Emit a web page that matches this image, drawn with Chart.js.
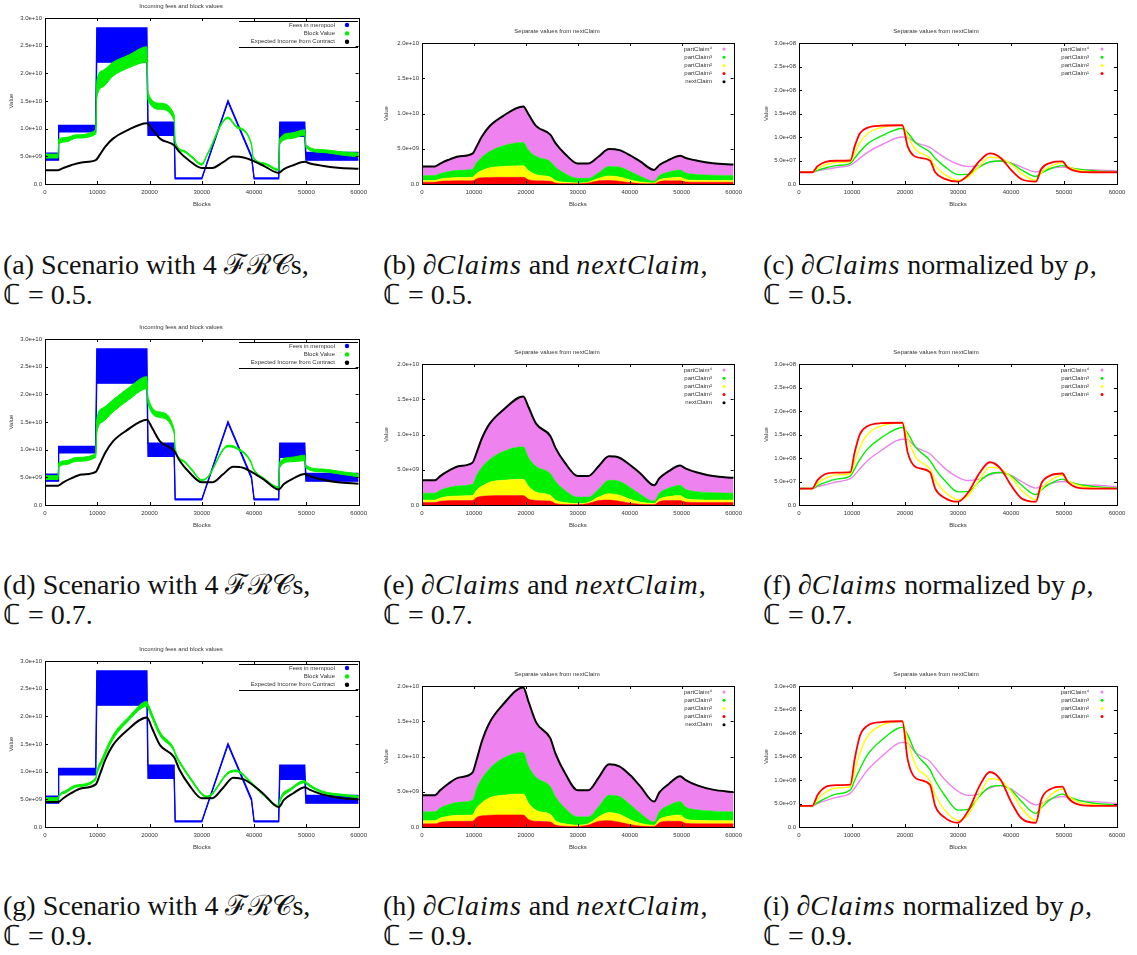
<!DOCTYPE html>
<html>
<head>
<meta charset="utf-8">
<script src="https://cdn.jsdelivr.net/npm/chart.js@4.4.1/dist/chart.umd.min.js"></script>
<style>
  body { margin: 0; background: #fff; width: 1137px; height: 955px; position: relative; overflow: hidden; }
  canvas { position: absolute; }
  .cap { position: absolute; font-family: "Liberation Serif", serif; font-size: 28px; line-height: 30px; color: #111; white-space: nowrap; }
  .cap i { font-style: italic; letter-spacing: 1px; }
</style>
</head>
<body>
<div id="panels"></div>

<div class="cap" style="left:3px;top:250px">(a) Scenario with 4 ℱℛ𝒞s,<br>ℂ = 0.5.</div>
<div class="cap" style="left:383px;top:250px">(b) ∂<i>Claims</i> and <i>nextClaim</i>,<br>ℂ = 0.5.</div>
<div class="cap" style="left:763px;top:250px">(c) ∂<i>Claims</i> normalized by <i>ρ</i>,<br>ℂ = 0.5.</div>
<div class="cap" style="left:3px;top:570px">(d) Scenario with 4 ℱℛ𝒞s,<br>ℂ = 0.7.</div>
<div class="cap" style="left:383px;top:570px">(e) ∂<i>Claims</i> and <i>nextClaim</i>,<br>ℂ = 0.7.</div>
<div class="cap" style="left:763px;top:570px">(f) ∂<i>Claims</i> normalized by <i>ρ</i>,<br>ℂ = 0.7.</div>
<div class="cap" style="left:3px;top:891px">(g) Scenario with 4 ℱℛ𝒞s,<br>ℂ = 0.9.</div>
<div class="cap" style="left:383px;top:891px">(h) ∂<i>Claims</i> and <i>nextClaim</i>,<br>ℂ = 0.9.</div>
<div class="cap" style="left:763px;top:891px">(i) ∂<i>Claims</i> normalized by <i>ρ</i>,<br>ℂ = 0.9.</div>

<script>
// tick labels
const xTickLabels = ['0', '10000', '20000', '30000', '40000', '50000', '60000'];
const feeTickLabels = ['0.0', '5.0e+09', '1.0e+10', '1.5e+10', '2.0e+10', '2.5e+10', '3.0e+10'];
const claimTickLabels = ['0.0', '5.0e+09', '1.0e+10', '1.5e+10', '2.0e+10'];
const normTickLabels = ['0.0', '5.0e+07', '1.0e+08', '1.5e+08', '2.0e+08', '2.5e+08', '3.0e+08'];

// fees in mempool (same in every scenario), lower / upper edge of the noisy band
const feesX = [0, 2500, 2600, 9700, 9900, 19500, 19700, 24700, 24900, 30000, 35000, 39500, 40000, 44700, 44900, 49700, 49900, 60000];
const feesLow = [4.3e9, 4.3e9, 9.4e9, 9.4e9, 2.2e10, 2.2e10, 8.8e9, 8.8e9, 0.9e9, 0.9e9, 1.48e10, 4.8e9, 0.9e9, 0.9e9, 8.6e9, 8.6e9, 4.3e9, 4.3e9];
const feesHigh = [5.6e9, 5.6e9, 1.06e10, 1.06e10, 2.82e10, 2.82e10, 1.12e10, 1.12e10, 1.1e9, 1.1e9, 1.51e10, 5.1e9, 1.1e9, 1.1e9, 1.12e10, 1.12e10, 5.7e9, 5.7e9];

// block value band
const blockX = [0, 2500, 2600, 4000, 6000, 9700, 9900, 11000, 13000, 16000, 19500, 19700, 22000, 24700, 24900, 26500, 28000, 30000, 31000, 35000, 36500, 39500, 39800, 42000, 44700, 44900, 47000, 49700, 49900, 53000, 57000, 60000];
const blockLow05 = [4.7e9, 4.7e9, 7.2e9, 7.6e9, 8.3e9, 9.0e9, 1.55e10, 1.75e10, 1.95e10, 2.1e10, 2.2e10, 1.52e10, 1.35e10, 1.15e10, 7.3e9, 5.8e9, 4.8e9, 3.4e9, 5.1e9, 1.18e10, 1.03e10, 7.0e9, 4.7e9, 3.5e9, 2.4e9, 7.2e9, 8.2e9, 8.8e9, 6.6e9, 5.7e9, 5.2e9, 4.9e9];
const blockHigh05 = [5.4e9, 5.4e9, 8.1e9, 8.4e9, 8.9e9, 9.8e9, 1.85e10, 2.05e10, 2.2e10, 2.33e10, 2.48e10, 1.65e10, 1.46e10, 1.25e10, 7.8e9, 6.1e9, 5.1e9, 3.7e9, 5.4e9, 1.21e10, 1.06e10, 7.3e9, 5.0e9, 3.8e9, 2.7e9, 8.2e9, 9.2e9, 9.8e9, 7.1e9, 6.2e9, 5.8e9, 5.6e9];
const blockLow07 = [4.6e9, 4.6e9, 6.7e9, 7.3e9, 7.9e9, 8.6e9, 1.3e10, 1.5e10, 1.68e10, 1.9e10, 2.1e10, 1.83e10, 1.58e10, 1.29e10, 1.0e10, 7.8e9, 6.3e9, 4.4e9, 4.8e9, 1.05e10, 1.02e10, 7.4e9, 6.5e9, 4.5e9, 3.0e9, 6.8e9, 7.8e9, 8.0e9, 6.7e9, 6.0e9, 5.5e9, 5.1e9];
const blockHigh07 = [5.3e9, 5.3e9, 7.6e9, 8.0e9, 8.6e9, 9.3e9, 1.55e10, 1.75e10, 1.9e10, 2.12e10, 2.32e10, 1.95e10, 1.68e10, 1.37e10, 1.04e10, 8.1e9, 6.6e9, 4.6e9, 5.0e9, 1.08e10, 1.05e10, 7.7e9, 6.8e9, 4.8e9, 3.3e9, 7.8e9, 8.6e9, 9.0e9, 7.2e9, 6.5e9, 6.0e9, 5.6e9];
const blockLow09 = [4.8e9, 4.8e9, 5.2e9, 6.2e9, 7.2e9, 8.5e9, 9.4e9, 1.18e10, 1.58e10, 1.92e10, 2.18e10, 2.14e10, 1.65e10, 1.36e10, 1.3e10, 1.04e10, 8.3e9, 5.8e9, 5.3e9, 9.6e9, 1.0e10, 7.8e9, 7.5e9, 5.5e9, 3.6e9, 4.4e9, 6.6e9, 8.0e9, 7.8e9, 6.2e9, 5.6e9, 5.3e9];
const blockHigh09 = [5.3e9, 5.3e9, 5.6e9, 6.6e9, 7.6e9, 8.9e9, 1.0e10, 1.26e10, 1.66e10, 1.99e10, 2.27e10, 2.23e10, 1.72e10, 1.41e10, 1.35e10, 1.08e10, 8.7e9, 6.1e9, 5.6e9, 9.9e9, 1.03e10, 8.1e9, 7.8e9, 5.8e9, 3.9e9, 4.9e9, 7.0e9, 8.4e9, 8.2e9, 6.5e9, 5.9e9, 5.6e9];

// blocks grid for the smooth curves
const blocks = [0, 2500, 3500, 5000, 7000, 9700, 10500, 11500, 13000, 15500, 19500, 20500, 22000, 24700, 25700, 27500, 30000, 32000, 34000, 36000, 38000, 40000, 42000, 44700, 45700, 47500, 49700, 50700, 53000, 56000, 60000];

// nextClaim = expected income from contract
const nextClaim05 = [2.5e9, 2.5e9, 2.9e9, 3.4e9, 3.9e9, 4.3e9, 5.3e9, 6.7e9, 8.2e9, 9.6e9, 1.1e10, 9.9e9, 8.2e9, 7.0e9, 5.8e9, 4.3e9, 2.9e9, 2.9e9, 3.9e9, 4.95e9, 4.8e9, 4.1e9, 3.2e9, 2.0e9, 2.7e9, 3.4e9, 4.0e9, 3.7e9, 3.3e9, 2.95e9, 2.75e9];
const nextClaim07 = [3.5e9, 3.5e9, 4.1e9, 4.8e9, 5.5e9, 6.0e9, 7.4e9, 9.4e9, 1.15e10, 1.34e10, 1.54e10, 1.39e10, 1.15e10, 9.8e9, 8.1e9, 6.0e9, 4.1e9, 4.1e9, 5.5e9, 6.9e9, 6.7e9, 5.7e9, 4.5e9, 2.8e9, 3.8e9, 4.8e9, 5.6e9, 5.2e9, 4.6e9, 4.1e9, 3.85e9];
const nextClaim09 = [4.5e9, 4.5e9, 5.2e9, 6.1e9, 7.0e9, 7.7e9, 9.5e9, 1.21e10, 1.48e10, 1.73e10, 1.98e10, 1.78e10, 1.48e10, 1.26e10, 1.04e10, 7.7e9, 5.2e9, 5.2e9, 7.0e9, 8.9e9, 8.6e9, 7.4e9, 5.8e9, 3.6e9, 4.9e9, 6.1e9, 7.2e9, 6.7e9, 5.9e9, 5.3e9, 4.95e9];

// stacked partClaims: top of partClaim1, of 1+2, of 1+2+3 (partClaim4 fills up to nextClaim)
const claimTop1_05 = [0.25e9, 0.25e9, 0.38e9, 0.44e9, 0.45e9, 0.45e9, 0.75e9, 0.88e9, 0.93e9, 0.95e9, 0.95e9, 0.6e9, 0.45e9, 0.4e9, 0.15e9, 0.06e9, 0.04e9, 0.15e9, 0.45e9, 0.5e9, 0.38e9, 0.2e9, 0.07e9, 0.04e9, 0.35e9, 0.45e9, 0.45e9, 0.3e9, 0.25e9, 0.25e9, 0.25e9];
const claimTop2_05 = [0.5e9, 0.5e9, 0.7e9, 0.85e9, 0.92e9, 0.95e9, 1.5e9, 1.9e9, 2.3e9, 2.5e9, 2.6e9, 1.9e9, 1.3e9, 1.0e9, 0.5e9, 0.25e9, 0.15e9, 0.25e9, 0.8e9, 1.15e9, 1.0e9, 0.6e9, 0.3e9, 0.15e9, 0.6e9, 0.85e9, 0.95e9, 0.65e9, 0.52e9, 0.5e9, 0.5e9];
const claimTop3_05 = [1.2e9, 1.2e9, 1.5e9, 1.75e9, 1.95e9, 2.1e9, 3.0e9, 3.8e9, 4.6e9, 5.4e9, 5.9e9, 4.8e9, 3.9e9, 3.2e9, 2.4e9, 1.5e9, 0.8e9, 0.8e9, 1.6e9, 2.5e9, 2.4e9, 1.8e9, 1.1e9, 0.4e9, 1.2e9, 1.7e9, 2.0e9, 1.6e9, 1.35e9, 1.25e9, 1.2e9];
const claimTop1_07 = [0.35e9, 0.35e9, 0.53e9, 0.62e9, 0.63e9, 0.63e9, 1.05e9, 1.23e9, 1.3e9, 1.33e9, 1.33e9, 0.84e9, 0.63e9, 0.56e9, 0.21e9, 0.08e9, 0.06e9, 0.21e9, 0.63e9, 0.7e9, 0.53e9, 0.28e9, 0.1e9, 0.06e9, 0.49e9, 0.63e9, 0.63e9, 0.42e9, 0.35e9, 0.35e9, 0.35e9];
const claimTop2_07 = [0.7e9, 0.7e9, 0.98e9, 1.19e9, 1.29e9, 1.33e9, 2.1e9, 2.66e9, 3.22e9, 3.5e9, 3.64e9, 2.66e9, 1.82e9, 1.4e9, 0.7e9, 0.35e9, 0.21e9, 0.35e9, 1.12e9, 1.61e9, 1.4e9, 0.84e9, 0.42e9, 0.21e9, 0.84e9, 1.19e9, 1.33e9, 0.91e9, 0.73e9, 0.7e9, 0.7e9];
const claimTop3_07 = [1.68e9, 1.68e9, 2.1e9, 2.45e9, 2.73e9, 2.94e9, 4.2e9, 5.32e9, 6.44e9, 7.56e9, 8.26e9, 6.72e9, 5.46e9, 4.48e9, 3.36e9, 2.1e9, 1.12e9, 1.12e9, 2.24e9, 3.5e9, 3.36e9, 2.52e9, 1.54e9, 0.56e9, 1.68e9, 2.38e9, 2.8e9, 2.24e9, 1.89e9, 1.75e9, 1.68e9];
const claimTop1_09 = [0.45e9, 0.45e9, 0.68e9, 0.79e9, 0.81e9, 0.81e9, 1.35e9, 1.58e9, 1.67e9, 1.71e9, 1.71e9, 1.08e9, 0.81e9, 0.72e9, 0.27e9, 0.11e9, 0.07e9, 0.27e9, 0.81e9, 0.9e9, 0.68e9, 0.36e9, 0.13e9, 0.07e9, 0.63e9, 0.81e9, 0.81e9, 0.54e9, 0.45e9, 0.45e9, 0.45e9];
const claimTop2_09 = [0.9e9, 0.9e9, 1.26e9, 1.53e9, 1.66e9, 1.71e9, 2.7e9, 3.42e9, 4.14e9, 4.5e9, 4.68e9, 3.42e9, 2.34e9, 1.8e9, 0.9e9, 0.45e9, 0.27e9, 0.45e9, 1.44e9, 2.07e9, 1.8e9, 1.08e9, 0.54e9, 0.27e9, 1.08e9, 1.53e9, 1.71e9, 1.17e9, 0.94e9, 0.9e9, 0.9e9];
const claimTop3_09 = [2.16e9, 2.16e9, 2.7e9, 3.15e9, 3.51e9, 3.78e9, 5.4e9, 6.84e9, 8.28e9, 9.72e9, 1.062e10, 8.64e9, 7.02e9, 5.76e9, 4.32e9, 2.7e9, 1.44e9, 1.44e9, 2.88e9, 4.5e9, 4.32e9, 3.24e9, 1.98e9, 0.72e9, 2.16e9, 3.06e9, 3.6e9, 2.88e9, 2.43e9, 2.25e9, 2.16e9];

// partClaims normalized by rho
const norm1_05 = [2.5e7, 2.5e7, 3.8e7, 4.7e7, 4.95e7, 5.0e7, 8.0e7, 1.08e8, 1.2e8, 1.24e8, 1.25e8, 8.0e7, 5.8e7, 5.0e7, 2.5e7, 1.1e7, 0.5e7, 2.0e7, 4.8e7, 6.5e7, 5.6e7, 3.0e7, 1.0e7, 0.5e7, 3.2e7, 4.5e7, 4.8e7, 3.5e7, 2.6e7, 2.5e7, 2.5e7];
const norm2_05 = [2.5e7, 2.5e7, 3.3e7, 4.1e7, 4.6e7, 4.8e7, 6.5e7, 8.8e7, 1.08e8, 1.2e8, 1.25e8, 1.02e8, 7.3e7, 5.5e7, 3.8e7, 2.0e7, 0.8e7, 1.5e7, 3.8e7, 5.7e7, 5.5e7, 4.2e7, 2.2e7, 0.8e7, 2.4e7, 3.8e7, 4.5e7, 3.7e7, 2.9e7, 2.6e7, 2.5e7];
const norm3_05 = [2.5e7, 2.5e7, 2.9e7, 3.4e7, 3.9e7, 4.4e7, 5.5e7, 6.9e7, 8.6e7, 1.02e8, 1.18e8, 1.09e8, 8.8e7, 6.8e7, 5.5e7, 3.7e7, 2.0e7, 2.1e7, 3.6e7, 4.7e7, 4.9e7, 4.4e7, 3.0e7, 1.6e7, 2.3e7, 3.3e7, 3.9e7, 3.6e7, 3.1e7, 2.8e7, 2.6e7];
const norm4_05 = [2.5e7, 2.5e7, 2.8e7, 3.1e7, 3.5e7, 4.0e7, 4.6e7, 5.5e7, 6.8e7, 8.3e7, 1.0e8, 9.9e7, 8.8e7, 7.8e7, 7.0e7, 5.6e7, 4.2e7, 3.7e7, 3.9e7, 4.6e7, 4.9e7, 4.5e7, 3.6e7, 2.6e7, 2.8e7, 3.3e7, 3.6e7, 3.5e7, 3.1e7, 3.0e7, 2.8e7];
const norm1_07 = [3.5e7, 3.5e7, 5.3e7, 6.6e7, 6.9e7, 7.0e7, 1.12e8, 1.51e8, 1.68e8, 1.74e8, 1.75e8, 1.12e8, 8.1e7, 7.0e7, 3.5e7, 1.5e7, 0.7e7, 2.8e7, 6.7e7, 9.1e7, 7.8e7, 4.2e7, 1.4e7, 0.7e7, 4.5e7, 6.3e7, 6.7e7, 4.9e7, 3.6e7, 3.5e7, 3.5e7];
const norm2_07 = [3.5e7, 3.5e7, 4.6e7, 5.7e7, 6.4e7, 6.7e7, 9.1e7, 1.23e8, 1.51e8, 1.68e8, 1.75e8, 1.43e8, 1.02e8, 7.7e7, 5.3e7, 2.8e7, 1.1e7, 2.1e7, 5.3e7, 8.0e7, 7.7e7, 5.9e7, 3.1e7, 1.1e7, 3.4e7, 5.3e7, 6.3e7, 5.2e7, 4.1e7, 3.6e7, 3.5e7];
const norm3_07 = [3.5e7, 3.5e7, 4.1e7, 4.8e7, 5.5e7, 6.2e7, 7.7e7, 9.7e7, 1.2e8, 1.43e8, 1.65e8, 1.53e8, 1.23e8, 9.5e7, 7.7e7, 5.2e7, 2.8e7, 2.9e7, 5.0e7, 6.6e7, 6.9e7, 6.2e7, 4.2e7, 2.2e7, 3.2e7, 4.6e7, 5.5e7, 5.0e7, 4.3e7, 3.9e7, 3.6e7];
const norm4_07 = [3.5e7, 3.5e7, 3.9e7, 4.3e7, 4.9e7, 5.6e7, 6.4e7, 7.7e7, 9.5e7, 1.16e8, 1.4e8, 1.39e8, 1.23e8, 1.09e8, 9.8e7, 7.8e7, 5.9e7, 5.2e7, 5.5e7, 6.4e7, 6.9e7, 6.3e7, 5.0e7, 3.6e7, 3.9e7, 4.6e7, 5.0e7, 4.9e7, 4.3e7, 4.2e7, 3.9e7];
const norm1_09 = [4.5e7, 4.5e7, 6.8e7, 8.5e7, 8.9e7, 9.0e7, 1.44e8, 1.94e8, 2.16e8, 2.23e8, 2.25e8, 1.44e8, 1.04e8, 9.0e7, 4.5e7, 2.0e7, 0.9e7, 3.6e7, 8.6e7, 1.17e8, 1.01e8, 5.4e7, 1.8e7, 0.9e7, 5.8e7, 8.1e7, 8.6e7, 6.3e7, 4.7e7, 4.5e7, 4.5e7];
const norm2_09 = [4.5e7, 4.5e7, 5.9e7, 7.4e7, 8.3e7, 8.6e7, 1.17e8, 1.58e8, 1.94e8, 2.16e8, 2.25e8, 1.84e8, 1.31e8, 9.9e7, 6.8e7, 3.6e7, 1.4e7, 2.7e7, 6.8e7, 1.03e8, 9.9e7, 7.6e7, 4.0e7, 1.4e7, 4.3e7, 6.8e7, 8.1e7, 6.7e7, 5.2e7, 4.7e7, 4.5e7];
const norm3_09 = [4.5e7, 4.5e7, 5.2e7, 6.1e7, 7.0e7, 7.9e7, 9.9e7, 1.24e8, 1.55e8, 1.84e8, 2.12e8, 1.96e8, 1.58e8, 1.22e8, 9.9e7, 6.7e7, 3.6e7, 3.8e7, 6.5e7, 8.5e7, 8.8e7, 7.9e7, 5.4e7, 2.9e7, 4.1e7, 5.9e7, 7.0e7, 6.5e7, 5.6e7, 5.0e7, 4.7e7];
const norm4_09 = [4.5e7, 4.5e7, 5.0e7, 5.6e7, 6.3e7, 7.2e7, 8.3e7, 9.9e7, 1.22e8, 1.49e8, 1.8e8, 1.78e8, 1.58e8, 1.4e8, 1.26e8, 1.01e8, 7.6e7, 6.7e7, 7.0e7, 8.3e7, 8.8e7, 8.1e7, 6.5e7, 4.7e7, 5.0e7, 5.9e7, 6.5e7, 6.3e7, 5.6e7, 5.4e7, 5.0e7];

const scenarios = [
  { block: [blockLow05, blockHigh05], next: nextClaim05, tops: [claimTop1_05, claimTop2_05, claimTop3_05], norm: [norm1_05, norm2_05, norm3_05, norm4_05] },
  { block: [blockLow07, blockHigh07], next: nextClaim07, tops: [claimTop1_07, claimTop2_07, claimTop3_07], norm: [norm1_07, norm2_07, norm3_07, norm4_07] },
  { block: [blockLow09, blockHigh09], next: nextClaim09, tops: [claimTop1_09, claimTop2_09, claimTop3_09], norm: [norm1_09, norm2_09, norm3_09, norm4_09] }
];

// colours
const BLUE = '#0000ff', GREEN = '#00f000', BLACK = '#000000', VIOLET = '#ee82ee', YELLOW = '#ffff00', RED = '#ff0000';

// layout of the 3x3 grid (page pixels)
const rowTops = [0, 321, 643];
const cols = [
  { left: 0, width: 372, areaL: 45, areaR: 362, areaT: 18 },
  { left: 375, width: 372, areaL: 422, areaR: 739, areaT: 43 },
  { left: 755, width: 382, areaL: 799, areaR: 1117, areaT: 43 }
];
const canvasH = 212, areaB = 184;

Chart.defaults.font.family = '"Liberation Sans", Arial, sans-serif';
Chart.defaults.font.size = 6;
Chart.defaults.color = '#333';

const pts = (xs, ys) => xs.map((x, i) => ({ x: x, y: ys[i] }));

// gnuplot like border with inward mirrored ticks
const gnuFrame = {
  id: 'gnuFrame',
  afterDatasetsDraw(chart) {
    const ctx = chart.ctx, a = chart.chartArea, sx = chart.scales.x, sy = chart.scales.y;
    ctx.save();
    ctx.strokeStyle = '#000';
    ctx.lineWidth = 1;
    ctx.strokeRect(Math.round(a.left) + 0.5, Math.round(a.top) + 0.5, Math.round(a.width), Math.round(a.height));
    ctx.beginPath();
    sx.ticks.forEach(t => {
      const px = Math.round(sx.getPixelForValue(t.value)) + 0.5;
      ctx.moveTo(px, a.bottom); ctx.lineTo(px, a.bottom - 3);
      ctx.moveTo(px, a.top); ctx.lineTo(px, a.top + 3);
    });
    sy.ticks.forEach(t => {
      const py = Math.round(sy.getPixelForValue(t.value)) + 0.5;
      ctx.moveTo(a.left, py); ctx.lineTo(a.left + 3, py);
      ctx.moveTo(a.right, py); ctx.lineTo(a.right - 3, py);
    });
    ctx.stroke();
    ctx.restore();
  }
};

// key: label right aligned, dot marker after it
const gnuKey = {
  id: 'gnuKey',
  afterDraw(chart, args, opts) {
    const ctx = chart.ctx;
    ctx.save();
    ctx.font = '6px "Liberation Sans", Arial, sans-serif';
    ctx.textAlign = 'right';
    ctx.textBaseline = 'middle';
    for (let i = 0; i < opts.labels.length; i++) {
      const yy = opts.top + i * opts.gap;
      ctx.fillStyle = '#333';
      ctx.fillText(opts.labels[i], opts.textRight, yy);
      ctx.fillStyle = opts.colors[i];
      ctx.beginPath();
      ctx.arc(opts.markX, yy, opts.r, 0, 2 * Math.PI);
      ctx.fill();
    }
    if (opts.box) {
      ctx.strokeStyle = '#000';
      ctx.lineWidth = 1;
      ctx.beginPath();
      ctx.moveTo(opts.box[0], opts.box[1] + 0.5); ctx.lineTo(opts.box[2], opts.box[1] + 0.5);
      ctx.moveTo(opts.box[0], opts.box[3] + 0.5); ctx.lineTo(opts.box[2], opts.box[3] + 0.5);
      ctx.stroke();
    }
    ctx.restore();
  }
};

function baseOptions(col, yMax, yLabels, titleText, key) {
  const lh = 7.2;
  const titleMid = col.areaT - 12;
  return {
    responsive: false,
    animation: false,
    events: [],
    layout: { padding: { left: 0, right: col.left + col.width - col.areaR, top: 0, bottom: 0 } },
    plugins: {
      legend: { display: false },
      tooltip: { enabled: false },
      title: { display: true, text: titleText, color: '#333', font: { size: 6, weight: 'normal' },
        padding: { top: titleMid - lh / 2, bottom: col.areaT - titleMid - lh / 2 } },
      gnuKey: key
    },
    scales: {
      x: {
        type: 'linear', min: 0, max: 60000,
        grid: { display: false, drawTicks: false }, border: { display: false },
        ticks: { stepSize: 10000, padding: 5, maxRotation: 0, autoSkip: false, color: '#333',
          callback: (v, i) => xTickLabels[i] },
        title: { display: true, text: 'Blocks', color: '#333', font: { size: 6 }, padding: { top: 0, bottom: 4.4 } },
        afterFit: s => { s.height = canvasH - areaB; }
      },
      y: {
        min: 0, max: yMax,
        grid: { display: false, drawTicks: false }, border: { display: false },
        ticks: { stepSize: yMax / (yLabels.length - 1), padding: 3, color: '#333',
          callback: (v, i) => yLabels[i] },
        title: { display: true, text: 'Value', color: '#333', font: { size: 6 }, padding: { top: 7.4, bottom: 0 } },
        afterFit: s => { s.width = col.areaL - col.left; }
      }
    }
  };
}

function addCanvas(col, top) {
  const c = document.createElement('canvas');
  c.width = col.width;
  c.height = canvasH;
  c.style.left = col.left + 'px';
  c.style.top = top + 'px';
  c.style.width = col.width + 'px';
  c.style.height = canvasH + 'px';
  document.getElementById('panels').appendChild(c);
  return c;
}

scenarios.forEach((sc, r) => {
  const top = rowTops[r];

  // left: incoming fees and block values
  let col = cols[0];
  new Chart(addCanvas(col, top), {
    type: 'line',
    data: {
      datasets: [
        { data: pts(blocks, sc.next), borderColor: BLACK, borderWidth: 2, pointRadius: 0, fill: false, cubicInterpolationMode: 'monotone', order: 0 },
        { data: pts(blockX, sc.block[1]), borderColor: GREEN, backgroundColor: GREEN, borderWidth: 1, pointRadius: 0, fill: '+1', cubicInterpolationMode: 'monotone', order: 1 },
        { data: pts(blockX, sc.block[0]), borderColor: GREEN, borderWidth: 1, pointRadius: 0, fill: false, cubicInterpolationMode: 'monotone', order: 1 },
        { data: pts(feesX, feesHigh), borderColor: BLUE, backgroundColor: BLUE, borderWidth: 1.2, pointRadius: 0, fill: '+1', tension: 0, order: 2 },
        { data: pts(feesX, feesLow), borderColor: BLUE, borderWidth: 1.2, pointRadius: 0, fill: false, tension: 0, order: 2 }
      ]
    },
    options: baseOptions(col, 3e10, feeTickLabels, 'Incoming fees and block values', {
      labels: ['Fees in mempool', 'Block Value', 'Expected Income from Contract'],
      colors: [BLUE, GREEN, BLACK],
      textRight: 335, markX: 347, top: 25, gap: 8.4, r: 2.2,
      box: [239, 21, 358, 47]
    }),
    plugins: [gnuFrame, gnuKey]
  });

  // middle: stacked partClaims under nextClaim
  col = cols[1];
  new Chart(addCanvas(col, top), {
    type: 'line',
    data: {
      datasets: [
        { data: pts(blocks, sc.tops[0]), borderColor: RED, backgroundColor: RED, borderWidth: 0.5, pointRadius: 0, fill: 'origin', cubicInterpolationMode: 'monotone', order: 1 },
        { data: pts(blocks, sc.tops[1]), borderColor: YELLOW, backgroundColor: YELLOW, borderWidth: 0.5, pointRadius: 0, fill: '-1', cubicInterpolationMode: 'monotone', order: 1 },
        { data: pts(blocks, sc.tops[2]), borderColor: GREEN, backgroundColor: GREEN, borderWidth: 0.5, pointRadius: 0, fill: '-1', cubicInterpolationMode: 'monotone', order: 1 },
        { data: pts(blocks, sc.next), borderColor: VIOLET, backgroundColor: VIOLET, borderWidth: 0.5, pointRadius: 0, fill: '-1', cubicInterpolationMode: 'monotone', order: 1 },
        { data: pts(blocks, sc.next), borderColor: BLACK, borderWidth: 2, pointRadius: 0, fill: false, cubicInterpolationMode: 'monotone', order: 0 }
      ]
    },
    options: baseOptions(col, 2e10, claimTickLabels, 'Separate values from nextClaim', {
      labels: ['partClaim⁴', 'partClaim³', 'partClaim²', 'partClaim¹', 'nextClaim'],
      colors: [VIOLET, GREEN, YELLOW, RED, BLACK],
      textRight: 337, markX: 349, top: 49, gap: 8.2, r: 1.5
    }),
    plugins: [gnuFrame, gnuKey]
  });

  // right: partClaims normalized by rho
  col = cols[2];
  new Chart(addCanvas(col, top), {
    type: 'line',
    data: {
      datasets: [
        { data: pts(blocks, sc.norm[3]), borderColor: VIOLET, borderWidth: 1.4, pointRadius: 0, fill: false, cubicInterpolationMode: 'monotone', order: 3 },
        { data: pts(blocks, sc.norm[2]), borderColor: GREEN, borderWidth: 1.4, pointRadius: 0, fill: false, cubicInterpolationMode: 'monotone', order: 2 },
        { data: pts(blocks, sc.norm[1]), borderColor: YELLOW, borderWidth: 1.4, pointRadius: 0, fill: false, cubicInterpolationMode: 'monotone', order: 1 },
        { data: pts(blocks, sc.norm[0]), borderColor: RED, borderWidth: 1.8, pointRadius: 0, fill: false, cubicInterpolationMode: 'monotone', order: 0 }
      ]
    },
    options: baseOptions(col, 3e8, normTickLabels, 'Separate values from nextClaim', {
      labels: ['partClaim⁴', 'partClaim³', 'partClaim²', 'partClaim¹'],
      colors: [VIOLET, GREEN, YELLOW, RED],
      textRight: 334, markX: 347, top: 49, gap: 8.2, r: 1.5
    }),
    plugins: [gnuFrame, gnuKey]
  });
});
</script>
</body>
</html>
